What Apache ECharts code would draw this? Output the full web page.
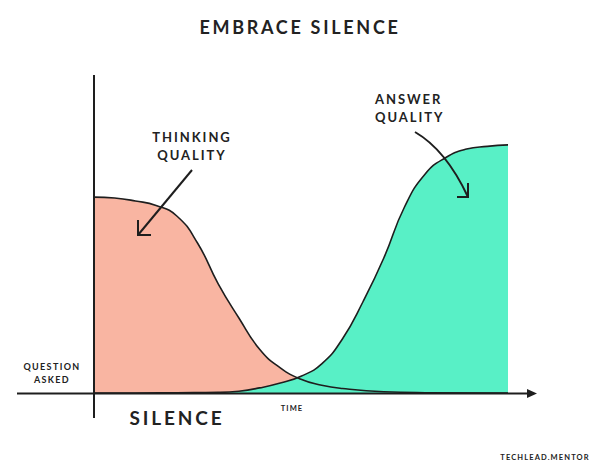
<!DOCTYPE html>
<html>
<head>
<meta charset="utf-8">
<script src="https://cdn.jsdelivr.net/npm/echarts@6/dist/echarts.min.js"></script>
<style>
html,body{margin:0;padding:0;background:#fff;}
#chart{width:600px;height:475px;}
#chart svg text{letter-spacing:0.15em;}
</style>
</head>
<body>
<div id="chart"></div>
<script>
// Thinking quality (salmon curve)
const thinkingX = [0, 5, 10, 15, 20, 25, 30, 35, 40, 45, 50, 55, 60, 70, 80, 100];
const thinkingY = [65.3, 65, 64, 62.5, 59, 50, 36.4, 25, 14.6, 8.4, 4.6, 2.6, 1.5, 0.4, 0.1, 0];
// Answer quality (teal curve)
const answerX = [0, 10, 20, 30, 35, 40, 45, 50, 55, 60, 65, 70, 75, 80, 85, 90, 95, 100];
const answerY = [0, 0, 0.1, 0.2, 0.6, 1.7, 3.3, 5.6, 9.7, 18, 30.5, 45, 62, 73, 78.5, 81.3, 82.2, 82.7];
const titleText = 'EMBRACE SILENCE';

const zip = (xs, ys) => xs.map((x, i) => [x, ys[i]]);
const thinking = zip(thinkingX, thinkingY);
const answer = zip(answerX, answerY);

const chart = echarts.init(document.getElementById('chart'), null, {renderer: 'svg'});
const ink = '#1e1e1e';
const font = 'Lato, "Open Sans", sans-serif';
const txt = (x, y, text, size, weight, align) => ({
  type: 'text', x, y, z: 10,
  style: {text, fill: '#222', font: `${weight} ${size}px ${font}`, textAlign: align || 'center', textVerticalAlign: 'middle', lineHeight: size * 1.4}
});
const sm = 0.5;

chart.setOption({
  animation: false,
  backgroundColor: '#fff',
  title: {text: titleText, left: 'center', top: 13, textStyle: {fontFamily: font, fontSize: 18, fontWeight: 'bold', color: '#222'}},
  grid: {left: 94, right: 92, top: 93, bottom: 82},
  xAxis: {type: 'value', min: 0, max: 100, show: false},
  yAxis: {type: 'value', min: 0, max: 100, show: false},
  series: [
    {type: 'line', data: thinking, smooth: sm, symbol: 'none', lineStyle: {width: 0}, areaStyle: {color: '#f9b5a2', opacity: 1}, z: 1},
    {type: 'line', data: answer, smooth: sm, symbol: 'none', lineStyle: {width: 0}, areaStyle: {color: '#58f0c6', opacity: 1}, z: 2},
    {type: 'line', data: thinking, smooth: sm, symbol: 'none', lineStyle: {width: 1.6, color: ink}, z: 3},
    {type: 'line', data: answer, smooth: sm, symbol: 'none', lineStyle: {width: 1.6, color: ink}, z: 3}
  ],
  graphic: [
    {type: 'line', z: 5, shape: {x1: 94, y1: 75, x2: 94, y2: 418}, style: {stroke: ink, lineWidth: 2}},
    {type: 'line', z: 5, shape: {x1: 17, y1: 393.5, x2: 528, y2: 393.5}, style: {stroke: ink, lineWidth: 2}},
    {type: 'polygon', z: 5, shape: {points: [[527, 389], [537, 393.5], [527, 398]]}, style: {fill: ink}},
    {type: 'line', z: 6, shape: {x1: 192, y1: 170, x2: 138, y2: 235}, style: {stroke: ink, lineWidth: 2}},
    {type: 'polyline', z: 6, shape: {points: [[138, 220], [138, 235], [151, 235]]}, style: {stroke: ink, lineWidth: 2, fill: null}},
    {type: 'bezierCurve', z: 6, shape: {x1: 415, y1: 132, cpx1: 446, cpy1: 150, x2: 468, y2: 197}, style: {stroke: ink, lineWidth: 2, fill: null}},
    {type: 'polyline', z: 6, shape: {points: [[468, 183], [468, 197], [457, 197]]}, style: {stroke: ink, lineWidth: 2, fill: null}},
    txt(192, 146, 'THINKING\nQUALITY', 13, 'bold'),
    txt(375, 108, 'ANSWER\nQUALITY', 13, 'bold', 'left'),
    txt(52, 373, 'QUESTION\nASKED', 9, 'bold'),
    txt(177, 417, 'SILENCE', 19, 'bold'),
    txt(292, 408, 'TIME', 7.5, 'bold'),
    txt(545, 457, 'TECHLEAD.MENTOR', 7.5, 'bold')
  ]
});
</script>
</body>
</html>
